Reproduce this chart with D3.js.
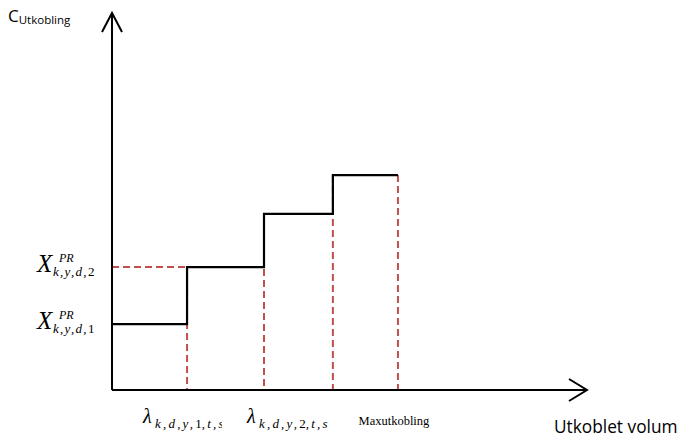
<!DOCTYPE html>
<html>
<head>
<meta charset="utf-8">
<script src="https://cdn.jsdelivr.net/npm/d3@7"></script>
<style>
  html, body { margin: 0; padding: 0; background: #fff; }
  svg { display: block; }
</style>
</head>
<body>
<svg id="chart" width="687" height="443"></svg>
<script>
// Step function: price level per disconnected-volume segment
const stepEdges = [0, 15.8, 32, 46.5, 60.2];      // volume breakpoints
const stepLevels = [17.5, 32.6, 46.7, 57];         // price of each segment
// y-axis labels (bid prices for segment 1 and 2)
const yLabelSubs = [["k,y,d,", "1"], ["k,y,d,", "2"]];
const yLabelLevels = [stepLevels[0], stepLevels[1]];
// x-axis labels under the breakpoints
const xLabelSubs = [["k,d,y,", "1", ",t,s"], ["k,d,y,", "2", ",t,s"]];
const xMaxLabel = "Maxutkobling";
const yTitleMain = "C";
const yTitleSub = "Utkobling";
const xTitle = "Utkoblet volum";

const svg = d3.select("#chart");
const x = d3.scaleLinear().domain([0, 100]).range([112, 587]);
const y = d3.scaleLinear().domain([0, 100]).range([390, 13]);

const red = "#c0504d";

// dashed guides: vertical drops from every breakpoint
stepEdges.slice(1).forEach((e, i) => {
  const top = i < stepLevels.length - 1 ? Math.max(stepLevels[i], stepLevels[i + 1]) : stepLevels[i];
  svg.append("line")
    .attr("x1", x(e)).attr("x2", x(e))
    .attr("y1", y(top)).attr("y2", y(0))
    .attr("stroke", red).attr("stroke-width", 2)
    .attr("stroke-dasharray", "7,4");
});
// dashed horizontal guide for the second level
svg.append("line")
  .attr("x1", x(0)).attr("x2", x(stepEdges[1]))
  .attr("y1", y(stepLevels[1])).attr("y2", y(stepLevels[1]))
  .attr("stroke", red).attr("stroke-width", 2)
  .attr("stroke-dasharray", "7,4");

// step line
const pts = [];
stepLevels.forEach((v, i) => {
  pts.push([stepEdges[i], v]);
  pts.push([stepEdges[i + 1], v]);
});
const line = d3.line().x(d => x(d[0])).y(d => y(d[1]));
svg.append("path")
  .attr("d", line(pts))
  .attr("fill", "none")
  .attr("stroke", "#000")
  .attr("stroke-width", 2.2);

// axes with open arrowheads
const axisG = svg.append("g").attr("stroke", "#000").attr("fill", "none").attr("stroke-width", 2);
axisG.append("line").attr("x1", x(0)).attr("x2", x(0)).attr("y1", y(0)).attr("y2", y(100) + 1);
axisG.append("line").attr("x1", x(0)).attr("x2", x(100) - 1).attr("y1", y(0)).attr("y2", y(0));
axisG.append("path")
  .attr("d", `M${x(0) - 10},${y(100) + 19} L${x(0)},${y(100)} L${x(0) + 10},${y(100) + 19}`);
axisG.append("path")
  .attr("d", `M${x(100) - 18},${y(0) - 11} L${x(100)},${y(0)} L${x(100) - 18},${y(0) + 11}`);

// y-axis title
const yt = svg.append("text")
  .attr("x", 8).attr("y", 22)
  .attr("font-family", "'Open Sans', sans-serif")
  .attr("fill", "#000");
yt.append("tspan").attr("font-size", 17).text(yTitleMain);
yt.append("tspan").attr("font-size", 11.5).attr("dy", 2).text(yTitleSub);

// x-axis title
svg.append("text")
  .attr("x", 554).attr("y", 433)
  .attr("font-family", "'Open Sans', sans-serif")
  .attr("font-size", 17.3)
  .attr("fill", "#000")
  .text(xTitle);

// y labels: X^PR_{k,y,d,n}
const serif = "'Liberation Serif', 'Times New Roman', serif";
yLabelLevels.forEach((v, i) => {
  const base = y(v) + 5;
  const t = svg.append("text")
    .attr("font-family", serif).attr("font-style", "italic").attr("fill", "#000");
  t.append("tspan").attr("x", 37).attr("y", base).attr("font-size", 25).text("X");
  t.append("tspan").attr("x", 59).attr("y", base - 10.5).attr("font-size", 12).text("PR");
  t.append("tspan").attr("x", 53).attr("y", base + 4).attr("font-size", 13)
    .attr("letter-spacing", 1.3).text(yLabelSubs[i][0]);
  t.append("tspan").attr("font-size", 13).attr("font-style", "normal").text(yLabelSubs[i][1]);
});

// x labels: lambda_{k,d,y,n,t,s}
const defs = svg.append("defs");
defs.append("clipPath").attr("id", "clipLam1")
  .append("rect").attr("x", 130).attr("y", 395).attr("width", 92).attr("height", 40);
const lamOffsets = [-44, -17];
xLabelSubs.forEach((s, i) => {
  const lx = x(stepEdges[i + 1]) + lamOffsets[i];
  const t = svg.append("text")
    .attr("font-family", serif).attr("font-style", "italic").attr("fill", "#000");
  if (i === 0) t.attr("clip-path", "url(#clipLam1)");
  t.append("tspan").attr("x", lx).attr("y", 423).attr("font-size", 20).text("λ");
  t.append("tspan").attr("x", lx + 12).attr("y", 428).attr("font-size", 13)
    .attr("letter-spacing", 2.2).text(s[0]);
  t.append("tspan").attr("font-size", 13).attr("font-style", "normal").text(s[1]);
  t.append("tspan").attr("font-size", 13).attr("letter-spacing", 2.2).text(s[2]);
});
svg.append("text")
  .attr("x", x(stepEdges[4]) - 4).attr("y", 425)
  .attr("text-anchor", "middle")
  .attr("font-family", serif)
  .attr("font-size", 12.5)
  .attr("fill", "#000")
  .text(xMaxLabel);
</script>
</body>
</html>
